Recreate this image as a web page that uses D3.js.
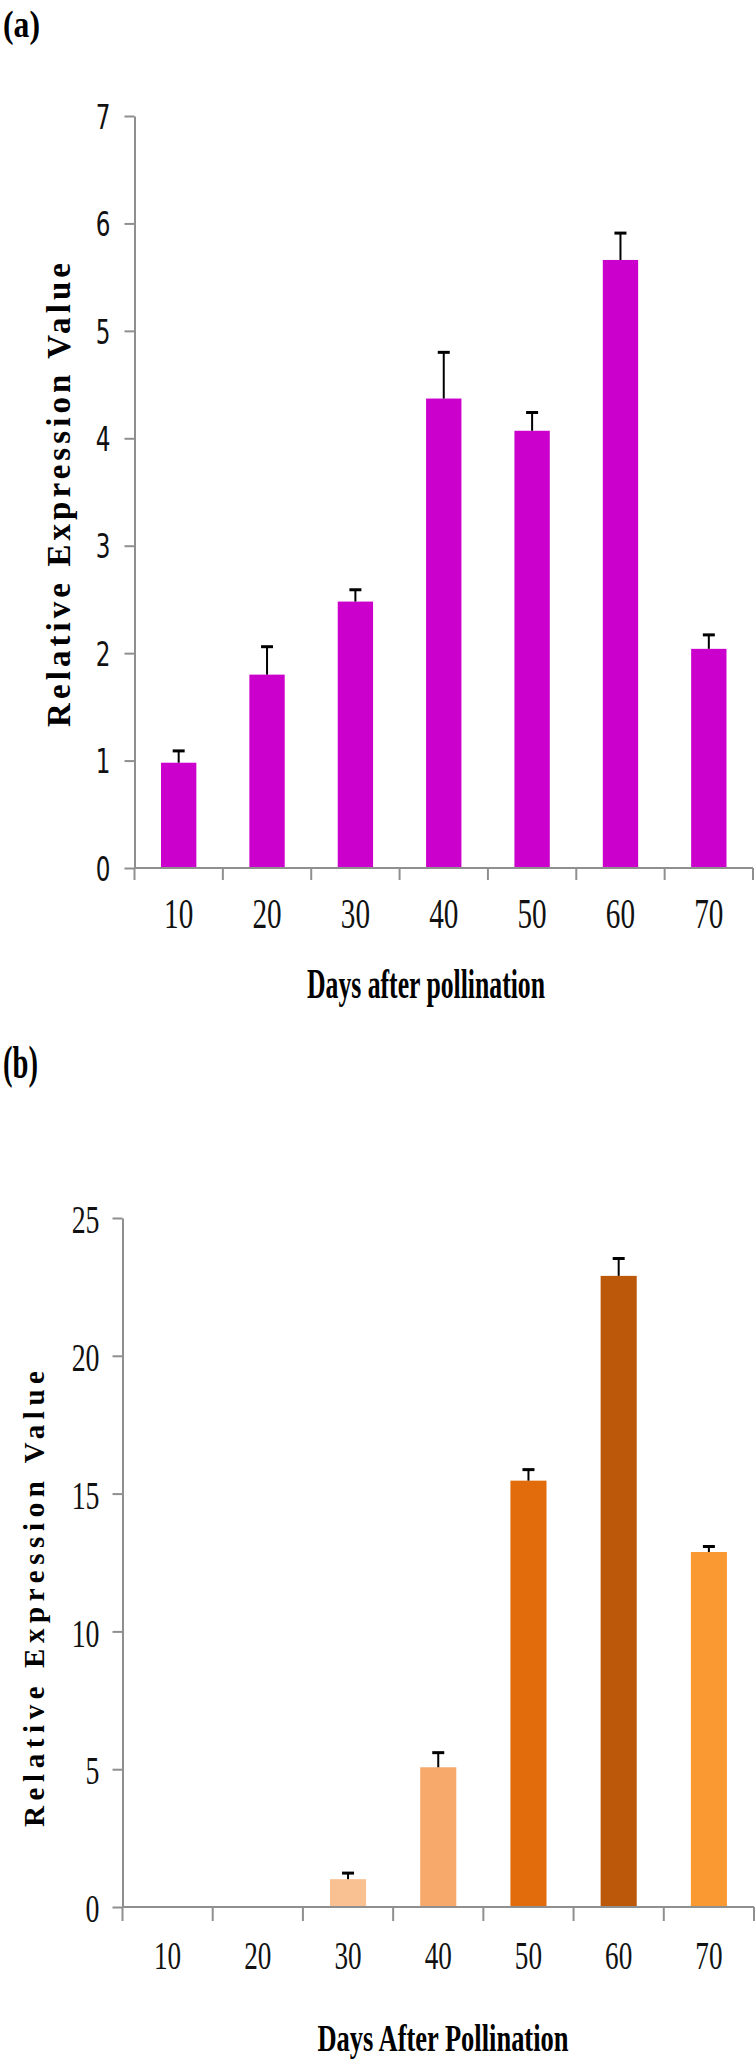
<!DOCTYPE html>
<html>
<head>
<meta charset="utf-8">
<script src="https://cdn.jsdelivr.net/npm/d3@7"></script>
<style>
	body { margin: 0; background: #fff; }
	svg { display: block; }
</style>
</head>
<body>
<div id="chart"></div>
<script>
// values
const days = ['10', '20', '30', '40', '50', '60', '70'];

const exprA = [0.98, 1.8, 2.48, 4.37, 4.07, 5.66, 2.04];
const errA = [0.11, 0.26, 0.11, 0.43, 0.17, 0.25, 0.13];
const ticksA = [0, 1, 2, 3, 4, 5, 6, 7];

const exprB = [0, 0, 1.01, 5.07, 15.47, 22.9, 12.88];
const errB = [0, 0, 0.22, 0.53, 0.4, 0.63, 0.2];
const ticksB = [0, 5, 10, 15, 20, 25];
const colorsB = ['#f9c192', '#f9c192', '#f9c192', '#f6a96b', '#e26b0b', '#bb580a', '#fa9832'];

const SERIF = '"Liberation Serif", "Times New Roman", serif';
const SANS = '"DejaVu Sans", Verdana, sans-serif';
const AXIS = '#8f8f8f';

const W = 756;
const H = 2071;

const $svg = d3
	.select('#chart')
	.append('svg')
	.attr('width', W)
	.attr('height', H);

function panel(o) {
	const rows = days.map((d, i) => ({ day: d, v: o.values[i], e: o.errors[i], c: o.colors[i] }));

	const x = d3
		.scaleBand()
		.domain(days)
		.range([o.x0, o.x1])
		.paddingInner(0.6)
		.paddingOuter(0.3);
	const y = d3.scaleLinear().domain([0, o.max]).range([o.y0, o.y1]);

	const $g = $svg.append('g');

	// panel letter
	$g.append('text')
		.attr('x', 3)
		.attr('y', o.letterY)
		.attr('font-family', SERIF)
		.attr('font-weight', 'bold')
		.attr('font-size', o.letterSize)
		.attr('textLength', o.letterLen)
		.attr('lengthAdjust', 'spacingAndGlyphs')
		.text(o.letter);

	// bars
	$g.selectAll('rect.bar')
		.data(rows.filter(d => d.v > 0))
		.join('rect')
		.attr('class', 'bar')
		.attr('x', d => x(d.day))
		.attr('width', x.bandwidth())
		.attr('y', d => y(d.v))
		.attr('height', d => y(0) - y(d.v))
		.attr('fill', d => d.c);

	// error bars (upper half only)
	const $err = $g
		.selectAll('g.err')
		.data(rows.filter(d => d.v > 0))
		.join('g')
		.attr('class', 'err')
		.attr('transform', d => `translate(${x(d.day) + x.bandwidth() / 2},0)`);
	$err.append('line')
		.attr('y1', d => y(d.v))
		.attr('y2', d => y(d.v + d.e))
		.attr('stroke', '#000')
		.attr('stroke-width', 2);
	$err.append('line')
		.attr('x1', -6)
		.attr('x2', 6)
		.attr('y1', d => y(d.v + d.e))
		.attr('y2', d => y(d.v + d.e))
		.attr('stroke', '#000')
		.attr('stroke-width', 3);

	// y axis
	const $yAxis = $g
		.append('g')
		.attr('transform', `translate(${o.x0},0)`)
		.call(
			d3
				.axisLeft(y)
				.tickValues(o.ticks)
				.tickFormat(d3.format('d'))
				.tickSize(o.yTick)
				.tickSizeOuter(0)
		);
	$yAxis.select('.domain').attr('stroke', AXIS).attr('stroke-width', 2);
	$yAxis.selectAll('.tick line').attr('stroke', AXIS).attr('stroke-width', 2);
	$yAxis
		.selectAll('.tick text')
		.attr('x', 0)
		.attr('dy', '0.36em')
		.attr('fill', '#111')
		.attr('font-family', o.yFont)
		.attr('font-size', o.yFontSize)
		.attr('transform', `translate(${-o.yGap},0) scale(${o.squeeze},1)`);

	// x axis: baseline plus ticks at the category boundaries
	const bounds = d3.range(days.length + 1).map(i => x.range()[0] + i * x.step());
	$g.append('line')
		.attr('x1', o.x0)
		.attr('x2', o.x1)
		.attr('y1', y(0))
		.attr('y2', y(0))
		.attr('stroke', AXIS)
		.attr('stroke-width', 2);
	$g.selectAll('line.xtick')
		.data(bounds)
		.join('line')
		.attr('class', 'xtick')
		.attr('x1', d => d)
		.attr('x2', d => d)
		.attr('y1', y(0))
		.attr('y2', y(0) + o.xTick)
		.attr('stroke', AXIS)
		.attr('stroke-width', 2);

	$g.selectAll('text.xlab')
		.data(days)
		.join('text')
		.attr('class', 'xlab')
		.attr('transform', d => `translate(${x(d) + x.bandwidth() / 2},${o.xLabelY}) scale(${o.squeeze},1)`)
		.attr('text-anchor', 'middle')
		.attr('font-family', SERIF)
		.attr('font-size', o.xFontSize)
		.attr('fill', '#111')
		.text(d => d);

	// axis titles
	$g.append('text')
		.attr('x', o.xTitleX)
		.attr('y', o.xTitleY)
		.attr('text-anchor', 'middle')
		.attr('font-family', SERIF)
		.attr('font-weight', 'bold')
		.attr('font-size', o.xTitleSize)
		.attr('textLength', o.xTitleLen)
		.attr('lengthAdjust', 'spacingAndGlyphs')
		.text(o.xTitle);

	$g.append('text')
		.attr('transform', `translate(${o.yTitleX},${o.yTitleY}) rotate(-90)`)
		.attr('text-anchor', 'middle')
		.attr('font-family', SERIF)
		.attr('font-weight', 'bold')
		.attr('font-size', o.yTitleSize)
		.attr('textLength', o.yTitleLen)
		.attr('lengthAdjust', 'spacing')
		.text('Relative Expression Value');
}

panel({
	letter: '(a)',
	letterY: 37,
	letterSize: 38,
	letterLen: 37,
	values: exprA,
	errors: errA,
	colors: days.map(() => '#cc00cc'),
	ticks: ticksA,
	max: 7,
	x0: 134.5,
	x1: 753,
	y0: 868,
	y1: 116,
	yTick: 10,
	xTick: 12,
	yGap: 24,
	yFont: SANS,
	yFontSize: 34,
	squeeze: 0.68,
	xFontSize: 43,
	xLabelY: 928,
	xTitle: 'Days after pollination',
	xTitleX: 426,
	xTitleY: 998,
	xTitleSize: 42,
	xTitleLen: 238,
	yTitleX: 70,
	yTitleY: 495,
	yTitleSize: 33,
	yTitleLen: 464
});

panel({
	letter: '(b)',
	letterY: 1078,
	letterSize: 46,
	letterLen: 35,
	values: exprB,
	errors: errB,
	colors: colorsB,
	ticks: ticksB,
	max: 25,
	x0: 122.5,
	x1: 754,
	y0: 1907,
	y1: 1218,
	yTick: 10,
	xTick: 14,
	yGap: 23,
	yFont: SERIF,
	yFontSize: 41,
	squeeze: 0.68,
	xFontSize: 40,
	xLabelY: 1969,
	xTitle: 'Days After Pollination',
	xTitleX: 443,
	xTitleY: 2051,
	xTitleSize: 37,
	xTitleLen: 251,
	yTitleX: 44,
	yTitleY: 1599,
	yTitleSize: 29,
	yTitleLen: 456
});
</script>
</body>
</html>
